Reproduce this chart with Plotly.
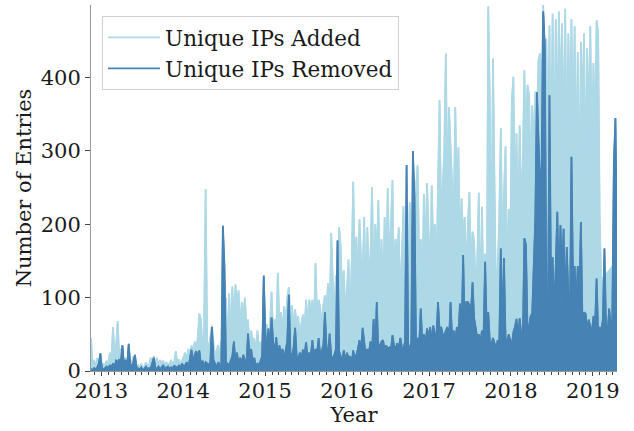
import pandas as pd
import plotly.graph_objects as go

# Weekly samples, first sample 2012-11-16
start_date = "2012-11-16"

added_2012_2013 = [45, 8, 15, 3, 18, 6, 12, 4, 10, 5,
                   14, 8, 25, 12, 60, 20, 35, 68, 18, 30,
                   20, 12, 18, 10, 15, 8, 12, 20, 10, 6,
                   8, 4, 10, 3, 6, 12, 5, 8, 18, 10,
                   20, 8, 18, 6, 15, 10, 14, 6, 12, 8,
                   10, 15, 8, 12, 27, 10, 16, 8]
added_2014 = [14, 20,
              25, 15, 30, 18, 35, 24, 40, 30, 45, 78,
              70, 30, 50, 248, 40, 30, 45, 62, 38, 20,
              28, 35, 15, 40, 20, 10, 100, 20, 106, 40,
              115, 60, 118, 90, 110, 50, 94, 70, 100, 60,
              70, 30, 55, 37, 45, 20, 55, 30, 40, 25]
added_2015 = [62, 40, 64, 45, 62, 108, 50, 70, 55, 134,
              60, 80, 50, 88, 65, 100, 114, 70, 90, 55,
              84, 60, 75, 40, 65, 77, 55, 97, 60, 97,
              80, 97, 60, 147, 70, 97, 85, 60, 90, 103,
              90, 120, 70, 188, 121, 80, 130, 100, 196, 170,
              100, 137, 70]
added_2016 = [120, 152, 80, 140, 258, 130, 183,
              110, 207, 150, 127, 210, 90, 196, 120, 160, 251,
              100, 200, 150, 233, 120, 180, 90, 210, 140, 249,
              130, 200, 260, 110, 180, 150, 196, 90, 170, 225,
              120, 180, 140, 230, 160, 200, 120, 250, 280, 150,
              180, 100, 241, 150, 256, 200]
added_2017 = [120, 253, 170, 200,
              130, 249, 369, 200, 250, 300, 433, 220, 360, 299,
              250, 200, 360, 230, 305, 150, 235, 180, 210, 120,
              200, 244, 130, 190, 178, 100, 150, 243, 60, 224,
              90, 160, 60, 497, 365, 120, 426, 256, 80, 140,
              205, 331, 150, 240, 306, 90, 221, 160]
added_2018 = [367, 401,
              200, 324, 150, 335, 220, 280, 410, 300, 390, 376,
              250, 362, 300, 381, 340, 424, 433, 380, 499, 420,
              453, 300, 471, 260, 487, 256, 480, 310, 490, 349,
              474, 280, 494, 251, 460, 330, 480, 300, 470, 260,
              435, 196, 449, 350, 460, 224, 440, 323, 470, 280]
added_2019 = [420, 300, 478, 460, 200, 124, None, None, None, None,
              None, None, 142, 140, 138, 145]

removed_2012_2013 = [3, 1, 4, 2, 5, 10, 24, 3, 2, 4,
                     6, 3, 8, 5, 10, 6, 14, 12, 16, 10,
                     35, 8, 15, 6, 37, 10, 4, 12, 22, 5,
                     3, 2, 5, 1, 3, 6, 2, 4, 3, 10,
                     18, 4, 3, 6, 2, 5, 8, 3, 4, 6,
                     3, 5, 4, 7, 6, 3, 8, 4]
removed_2014 = [10, 6,
                8, 12, 5, 16, 29, 10, 22, 27, 20, 28,
                8, 14, 6, 12, 10, 8, 12, 60, 15, 10,
                5, 12, 8, 6, 198, 142, 5, 10, 8, 14,
                20, 40, 12, 25, 8, 18, 10, 22, 14, 8,
                51, 20, 30, 12, 18, 6, 10, 8, 14, 20]
removed_2015 = [130, 55, 20, 58, 30, 73, 40, 25, 46, 20,
                35, 22, 30, 15, 28, 40, 104, 25, 18, 31,
                59, 20, 15, 25, 18, 29, 22, 39, 15, 25,
                20, 42, 18, 30, 25, 45, 20, 28, 35, 80,
                30, 25, 51, 20, 18, 22, 30, 178, 27, 20,
                15, 28, 12]
removed_2016 = [25, 18, 20, 10, 28, 15, 22,
                30, 42, 25, 59, 35, 20, 30, 25, 40, 28,
                71, 30, 94, 25, 35, 40, 42, 28, 35, 30,
                32, 28, 49, 35, 30, 38, 30, 45, 32, 30,
                40, 281, 35, 30, 40, 300, 237, 30, 45, 35,
                85, 40, 50, 35, 58, 45]
removed_2017 = [60, 40, 62, 50,
                45, 94, 55, 60, 50, 48, 55, 60, 40, 94,
                45, 55, 40, 60, 50, 92, 45, 158, 60, 94,
                94, 90, 80, 121, 72, 60, 45, 50, 40, 55,
                45, 149, 60, 80, 40, 35, 45, 38, 30, 42,
                35, 167, 40, 154, 45, 38, 50, 42]
removed_2018 = [35, 53,
                60, 71, 42, 72, 50, 40, 181, 172, 55, 60,
                75, 78, 150, 210, 380, 319, 250, 278, 490, 444,
                105, 46, 376, 105, 155, 70, 160, 217, 100, 199,
                120, 194, 80, 169, 105, 60, 292, 119, 143, 90,
                143, 100, 203, 65, 80, 78, 55, 70, 60, 53]
removed_2019 = [75, 60, 126, 51, 60, 55, 70, 167, 60, 50,
                85, 62, 70, 283, 345, 165]

added = (added_2012_2013 + added_2014 + added_2015 + added_2016
         + added_2017 + added_2018 + added_2019)
removed = (removed_2012_2013 + removed_2014 + removed_2015 + removed_2016
           + removed_2017 + removed_2018 + removed_2019)
dates = pd.date_range(start_date, periods=len(added), freq="7D")

FONT = "DejaVu Serif"
LIGHT = "#ADD8E6"
DARK = "#4682B4"

fig = go.Figure()
# dense daily spikes rendered as area under the envelope
fig.add_trace(go.Scatter(x=dates, y=added, mode="lines", showlegend=False,
                         line=dict(color=LIGHT, width=1.5), fill="tozeroy",
                         fillcolor=LIGHT, connectgaps=False, hoverinfo="skip"))
fig.add_trace(go.Scatter(x=dates, y=added, mode="lines", name="Unique IPs Added",
                         line=dict(color=LIGHT, width=1.8), connectgaps=True))
fig.add_trace(go.Scatter(x=dates, y=removed, mode="lines", showlegend=False,
                         line=dict(color=DARK, width=1.5), fill="tozeroy",
                         fillcolor=DARK, hoverinfo="skip"))
fig.add_trace(go.Scatter(x=dates, y=removed, mode="lines", name="Unique IPs Removed",
                         line=dict(color=DARK, width=1.8)))

fig.update_layout(
    width=634, height=431,
    margin=dict(l=91, r=17, t=5, b=60, autoexpand=False),
    paper_bgcolor="white", plot_bgcolor="white",
    font=dict(family=FONT, size=21, color="#1a1a1a"),
    showlegend=True,
    legend=dict(x=0.021, y=0.97, xanchor="left", yanchor="top",
                bgcolor="white", bordercolor="#d0d0d0", borderwidth=1,
                font=dict(family=FONT, size=21.5, color="#1a1a1a"),
                itemwidth=52, tracegroupgap=0),
)
fig.update_xaxes(
    range=[dates[0], dates[-1]], automargin=False,
    showgrid=False, zeroline=False,
    showline=True, linecolor="#999999", linewidth=1,
    ticks="outside", ticklen=4, tickcolor="#444444",
    tick0="2013-01-01", dtick="M12", tickformat="%Y",
    minor=dict(ticks="outside", ticklen=3, dtick="M1", tickcolor="#444444", showgrid=False),
    title=dict(text="Year", standoff=2, font=dict(family=FONT, size=21)),
    tickfont=dict(family=FONT, size=21),
    ticklabelstandoff=-3,
)
fig.update_yaxes(
    range=[0, 499], automargin=False,
    showgrid=False, zeroline=False,
    showline=True, linecolor="#999999", linewidth=1,
    ticks="outside", ticklen=5, tickcolor="#444444",
    tickvals=[0, 100, 200, 300, 400],
    title=dict(text="Number of Entries", standoff=3, font=dict(family=FONT, size=21)),
    tickfont=dict(family=FONT, size=21),
)

fig.write_html("out.html", config={"displayModeBar": False},
               post_script="document.body.style.margin='0';document.body.style.padding='0';")
